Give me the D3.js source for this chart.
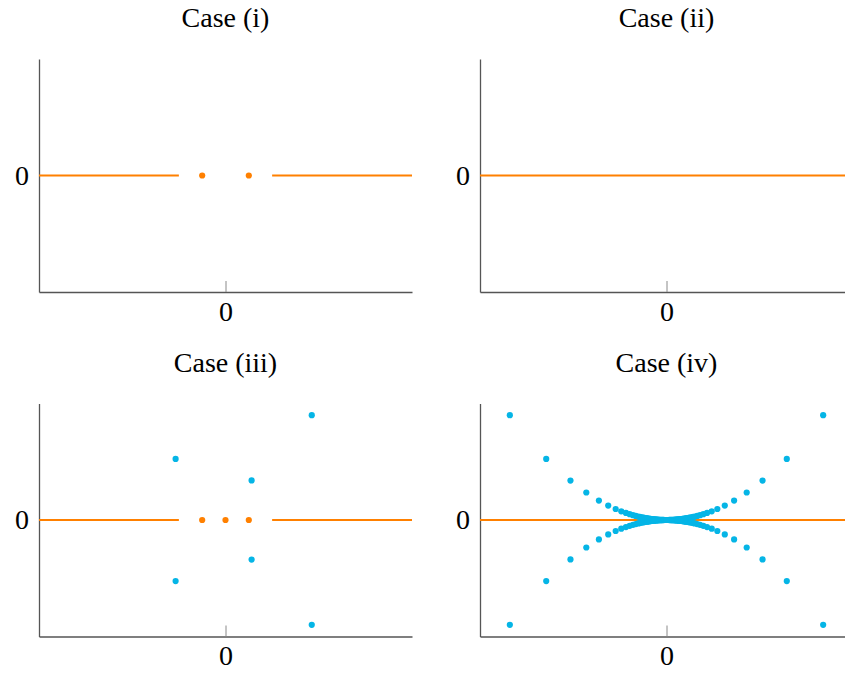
<!DOCTYPE html>
<html>
<head>
<meta charset="utf-8">
<script src="https://cdn.jsdelivr.net/npm/d3@7"></script>
<style>
  body { margin: 0; background: #fff; }
  svg text { font-family: "Liberation Serif", "DejaVu Serif", "Times New Roman", Times, serif !important; }
</style>
</head>
<body>
<div class="canvas"></div>
<script>
// data
const titles = ["Case (i)", "Case (ii)", "Case (iii)", "Case (iv)"];
const xDomain = [-4, 4];
const yDomain = [-2.5, 2.5];
const xTicks = [0];
const yTicks = [0];

// orange line pieces on y = 0 (from, to)
const segments1 = [[-4, -1], [1, 4]];
const segments2 = [[-4, 4]];
const segments3 = [[-4, -1], [1, 4]];
const segments4 = [[-4, 4]];

// orange dots on y = 0
const orange1 = [-0.5, 0.5];
const orange2 = [];
const orange3 = [-0.5, 0, 0.5];
const orange4 = [];

// blue dots
const blue3 = [[-1.07, 1.31], [-1.07, -1.31], [0.56, 0.85], [0.56, -0.85], [1.85, 2.25], [1.85, -2.25]];

// case (iv): one branch, mirrored into all four quadrants
const branchX = [3.36, 2.58, 2.06, 1.72, 1.45, 1.25, 1.09, 0.97, 0.87, 0.79, 0.72, 0.66, 0.61, 0.57,
                 0.53, 0.50, 0.47, 0.44, 0.42, 0.40, 0.38, 0.36, 0.34, 0.32, 0.30, 0.28, 0.26, 0.24,
                 0.22, 0.20, 0.18, 0.16, 0.14, 0.12, 0.10, 0.08, 0.06, 0.04, 0.02, 0];
const branchY = [2.25, 1.31, 0.845, 0.59, 0.416, 0.31, 0.236, 0.187, 0.151, 0.125, 0.104, 0.087, 0.074, 0.065,
                 0.056, 0.050, 0.044, 0.039, 0.035, 0.032, 0.029, 0.026, 0.023, 0.020, 0.018, 0.016, 0.014, 0.012,
                 0.010, 0.008, 0.006, 0.005, 0.004, 0.003, 0.002, 0.001, 0.001, 0, 0, 0];

const blue4 = [];
branchX.forEach((x, i) => {
    blue4.push([x, branchY[i]], [-x, branchY[i]], [x, -branchY[i]], [-x, -branchY[i]]);
});

const cases = [
    {title: titles[0], segs: segments1, orange: orange1, blue: []},
    {title: titles[1], segs: segments2, orange: orange2, blue: []},
    {title: titles[2], segs: segments3, orange: orange3, blue: blue3},
    {title: titles[3], segs: segments4, orange: orange4, blue: blue4}
];

const ORANGE = '#ff8000';
const BLUE = '#05b5e6';
const SERIF = '"Liberation Serif", "DejaVu Serif", "Times New Roman", Times, serif';

const svg = d3.select('.canvas')
    .append('svg')
    .attr('width', 845)
    .attr('height', 673)
    .attr('font-family', SERIF);

// panel placement
const panelLeft = [39, 480];
const panelTop = [59, 403.5];
const graphWidth = 373;
const graphHeight = 233;

const x = d3.scaleLinear().domain(xDomain).range([0, graphWidth]);
const y = d3.scaleLinear().domain(yDomain).range([graphHeight, 0]);

cases.forEach((c, i) => {
    const graph = svg.append('g')
        .attr('transform', `translate(${panelLeft[i % 2]}, ${panelTop[Math.floor(i / 2)]})`);

    // title
    graph.append('text')
        .attr('x', graphWidth / 2)
        .attr('y', -32)
        .attr('text-anchor', 'middle')
        .attr('font-size', 28)
        .attr('font-family', SERIF)
        .attr('fill', '#000')
        .text(c.title);

    // axes
    const xAxis = d3.axisBottom(x)
        .tickValues(xTicks)
        .tickSizeInner(-11)
        .tickSizeOuter(0)
        .tickPadding(9)
        .tickFormat(d3.format('d'));

    const yAxis = d3.axisLeft(y)
        .tickValues(yTicks)
        .tickSize(0)
        .tickPadding(10)
        .tickFormat(d3.format('d'));

    const xAxisGroup = graph.append('g')
        .attr('transform', `translate(0, ${graphHeight})`)
        .call(xAxis);

    const yAxisGroup = graph.append('g')
        .call(yAxis);

    [xAxisGroup, yAxisGroup].forEach(g => {
        g.attr('font-family', SERIF).attr('font-size', 28);
        g.select('.domain').attr('stroke', '#555').attr('stroke-width', 1.3);
        g.selectAll('.tick line').attr('stroke', '#8a8a8a').attr('stroke-width', 1);
        g.selectAll('.tick text')
            .attr('fill', '#000');
    });

    // orange line on zero
    graph.selectAll('line.seg')
        .data(c.segs)
        .enter()
        .append('line')
        .attr('class', 'seg')
        .attr('x1', d => x(d[0]))
        .attr('x2', d => x(d[1]))
        .attr('y1', y(0))
        .attr('y2', y(0))
        .attr('stroke', ORANGE)
        .attr('stroke-width', 2);

    // orange dots
    graph.selectAll('circle.orange')
        .data(c.orange)
        .enter()
        .append('circle')
        .attr('class', 'orange')
        .attr('cx', d => x(d))
        .attr('cy', y(0))
        .attr('r', 3.1)
        .attr('fill', ORANGE);

    // blue dots
    graph.selectAll('circle.blue')
        .data(c.blue)
        .enter()
        .append('circle')
        .attr('class', 'blue')
        .attr('cx', d => x(d[0]))
        .attr('cy', d => y(d[1]))
        .attr('r', 3.1)
        .attr('fill', BLUE);
});
</script>
</body>
</html>
